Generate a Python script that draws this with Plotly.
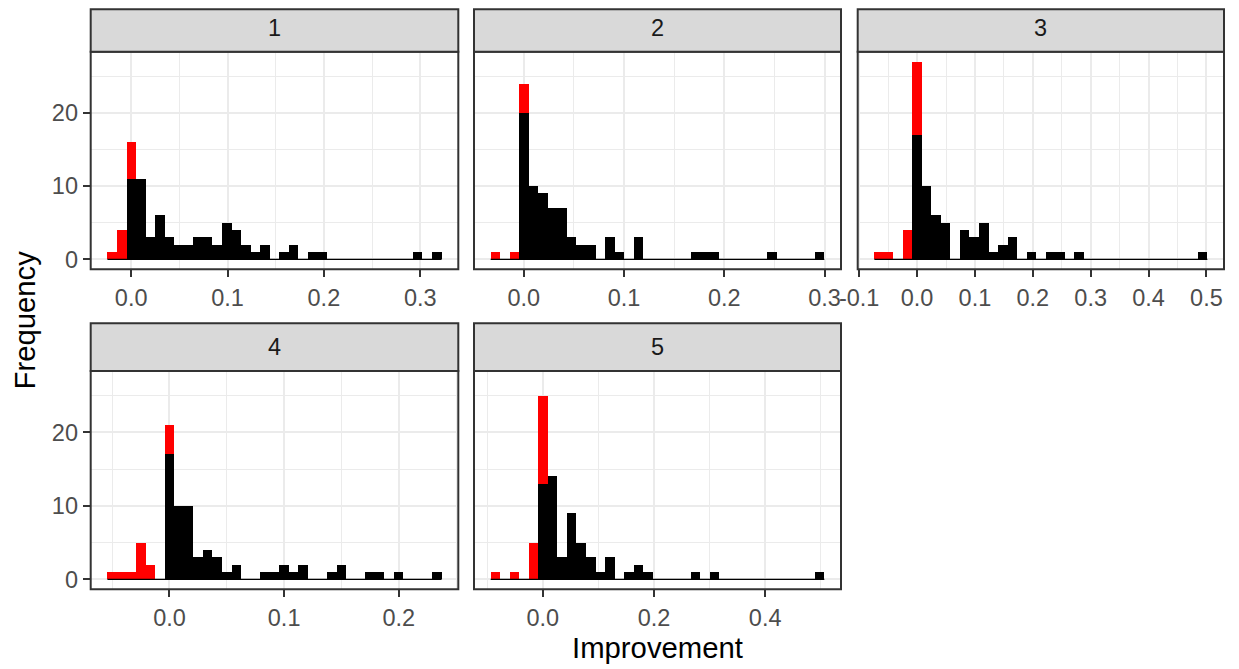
import plotly.graph_objects as go
import numpy as np

W, H = 1239, 669
OFF = 8  # page body margin of the browser

panels = ["1", "2", "3", "4", "5"]

# histogram bins (35 bins per facet): first bin centre and bin width
bin_first = [-0.0197, -0.0283, -0.0656, -0.0500, -0.0852]
bin_width = [0.00991, 0.00951, 0.01644, 0.00833, 0.01715]

black_1 = [0,0,11,11,3,6,3,2,2,3, 3,2,5,4,2,1,2,0,1,2, 0,1,1,0,0,0,0,0,0,0, 0,0,1,0,1]
red_1   = [1,4,5,0,0,0,0,0,0,0, 0,0,0,0,0,0,0,0,0,0, 0,0,0,0,0,0,0,0,0,0, 0,0,0,0,0]
black_2 = [0,0,0,20,10,9,7,7,3,2, 2,0,3,1,0,3,0,0,0,0, 0,1,1,1,0,0,0,0,0,1, 0,0,0,0,1]
red_2   = [1,0,1,4,0,0,0,0,0,0, 0,0,0,0,0,0,0,0,0,0, 0,0,0,0,0,0,0,0,0,0, 0,0,0,0,0]
black_3 = [0,0,0,0,17,10,6,5,0,4, 3,5,1,2,3,0,1,0,1,1, 0,1,0,0,0,0,0,0,0,0, 0,0,0,0,1]
red_3   = [1,1,0,4,10,0,0,0,0,0, 0,0,0,0,0,0,0,0,0,0, 0,0,0,0,0,0,0,0,0,0, 0,0,0,0,0]
black_4 = [0,0,0,0,0,0,17,10,10,3, 4,3,1,2,0,0,1,1,2,1, 2,0,0,1,2,0,0,1,1,0, 1,0,0,0,1]
red_4   = [1,1,1,5,2,0,4,0,0,0, 0,0,0,0,0,0,0,0,0,0, 0,0,0,0,0,0,0,0,0,0, 0,0,0,0,0]
black_5 = [0,0,0,0,0,13,14,3,9,5, 3,1,3,0,1,2,1,0,0,0, 0,1,0,1,0,0,0,0,0,0, 0,0,0,0,1]
red_5   = [1,0,1,0,5,12,0,0,0,0, 0,0,0,0,0,0,0,0,0,0, 0,0,0,0,0,0,0,0,0,0, 0,0,0,0,0]

black_counts = [black_1, black_2, black_3, black_4, black_5]
red_counts = [red_1, red_2, red_3, red_4, red_5]

x_ticks = [
    [0.0, 0.1, 0.2, 0.3],
    [0.0, 0.1, 0.2, 0.3],
    [-0.1, 0.0, 0.1, 0.2, 0.3, 0.4, 0.5],
    [0.0, 0.1, 0.2],
    [0.0, 0.2, 0.4],
]
x_tick_labels = [
    ["0.0", "0.1", "0.2", "0.3"],
    ["0.0", "0.1", "0.2", "0.3"],
    ["-0.1", "0.0", "0.1", "0.2", "0.3", "0.4", "0.5"],
    ["0.0", "0.1", "0.2"],
    ["0.0", "0.2", "0.4"],
]
y_ticks = [0, 10, 20]
y_tick_labels = ["0", "10", "20"]
x_title = "Improvement"
y_title = "Frequency"

# layout in (window) pixels
cols = [(90.7, 458.3), (474.0, 841.0), (857.7, 1224.0)]
rows = [(51.7, 269.3), (371.0, 589.3)]
strip_h = 47.7

FONT = "Liberation Sans, Arial, Helvetica, sans-serif"
GRID = "#EBEBEB"
DARK = "#333333"

fig = go.Figure()
layout = dict(
    template="none",
    width=W, height=H, margin=dict(l=0, r=0, t=0, b=0, autoexpand=False),
    paper_bgcolor="white", plot_bgcolor="white",
    barmode="stack", showlegend=False, shapes=[], annotations=[],
    font=dict(family=FONT),
)

ymax = max(max(b + r for b, r in zip(bk, rd)) for bk, rd in zip(black_counts, red_counts))
ypad = 0.05 * ymax
y_range = [-ypad, ymax + ypad]

def px(x):
    return (x - OFF) / W

def py(y):
    return 1 - (y - OFF) / H

for k, name in enumerate(panels):
    r, c = divmod(k, 3)
    x0, x1 = cols[c]
    y0, y1 = rows[r]
    w = bin_width[k]
    centers = bin_first[k] + w * np.arange(len(black_counts[k]))
    left = centers[0] - w / 2
    right = centers[-1] + w / 2
    span = right - left
    x_range = [left - 0.05 * span, right + 0.05 * span]
    sfx = "" if k == 0 else str(k + 1)
    xa, ya = "x" + sfx, "y" + sfx

    # baseline of zero-height bins
    fig.add_trace(go.Scatter(x=[left, right], y=[0, 0], mode="lines",
                             line=dict(color="black", width=1.2),
                             xaxis=xa, yaxis=ya, hoverinfo="skip"))
    fig.add_trace(go.Bar(x=centers, y=black_counts[k], width=w,
                         marker=dict(color="#000000", line=dict(width=0)),
                         xaxis=xa, yaxis=ya, name="black"))
    fig.add_trace(go.Bar(x=centers, y=red_counts[k], width=w,
                         marker=dict(color="#FF0000", line=dict(width=0)),
                         xaxis=xa, yaxis=ya, name="red"))

    ticks = np.array(x_ticks[k])
    step = ticks[1] - ticks[0]
    minor = [t + step / 2 for t in np.concatenate([[ticks[0] - step], ticks])
             if x_range[0] <= t + step / 2 <= x_range[1]]

    layout["xaxis" + sfx] = dict(
        domain=[px(x0), px(x1)], anchor=ya, range=x_range, automargin=False,
        tickmode="array", tickvals=x_ticks[k], ticktext=x_tick_labels[k],
        ticks="outside", ticklen=7, tickwidth=2, tickcolor=DARK,
        tickfont=dict(size=23.5, color="#4D4D4D", family=FONT),
        showgrid=True, gridcolor=GRID, gridwidth=2,
        minor=dict(tickmode="array", tickvals=minor, showgrid=True,
                   gridcolor=GRID, gridwidth=1, ticks=""),
        zeroline=False, showline=False, fixedrange=True,
    )
    show_y = (c == 0)
    layout["yaxis" + sfx] = dict(
        domain=[py(y1), py(y0)], anchor=xa, range=y_range, automargin=False,
        tickmode="array", tickvals=y_ticks, ticktext=y_tick_labels,
        showticklabels=show_y, ticks="outside" if show_y else "",
        ticklen=7, tickwidth=2, tickcolor=DARK,
        tickfont=dict(size=23.5, color="#4D4D4D", family=FONT),
        showgrid=True, gridcolor=GRID, gridwidth=2,
        minor=dict(tickmode="array", tickvals=[5, 15, 25], showgrid=True,
                   gridcolor=GRID, gridwidth=1, ticks=""),
        zeroline=False, showline=False, fixedrange=True,
    )

    # panel border
    layout["shapes"].append(dict(type="rect", xref="paper", yref="paper",
                                 x0=px(x0), x1=px(x1), y0=py(y1), y1=py(y0),
                                 line=dict(color=DARK, width=2), fillcolor="rgba(0,0,0,0)",
                                 layer="above"))
    # strip (top kept inside the visible page area)
    s_top = max(y0 - strip_h, OFF + 1.2)
    layout["shapes"].append(dict(type="rect", xref="paper", yref="paper",
                                 x0=px(x0), x1=px(x1), y0=py(y0), y1=py(s_top),
                                 line=dict(color=DARK, width=2), fillcolor="#D9D9D9",
                                 layer="above"))
    layout["annotations"].append(dict(text=name, xref="paper", yref="paper",
                                      x=px((x0 + x1) / 2), y=py(y0 - strip_h / 2),
                                      xanchor="center", yanchor="middle", showarrow=False,
                                      font=dict(size=23.5, color="#1A1A1A", family=FONT)))

# axis titles
layout["annotations"].append(dict(text=x_title, xref="paper", yref="paper",
                                  x=px((cols[0][0] + cols[2][1]) / 2), y=py(647),
                                  xanchor="center", yanchor="middle", showarrow=False,
                                  font=dict(size=29.3, color="#000000", family=FONT)))
layout["annotations"].append(dict(text=y_title, xref="paper", yref="paper",
                                  x=px(24), y=py((rows[0][0] + rows[1][1]) / 2),
                                  xanchor="center", yanchor="middle", showarrow=False,
                                  textangle=-90,
                                  font=dict(size=29.3, color="#000000", family=FONT)))

fig.update_layout(**layout)
fig.write_html("out.html")
